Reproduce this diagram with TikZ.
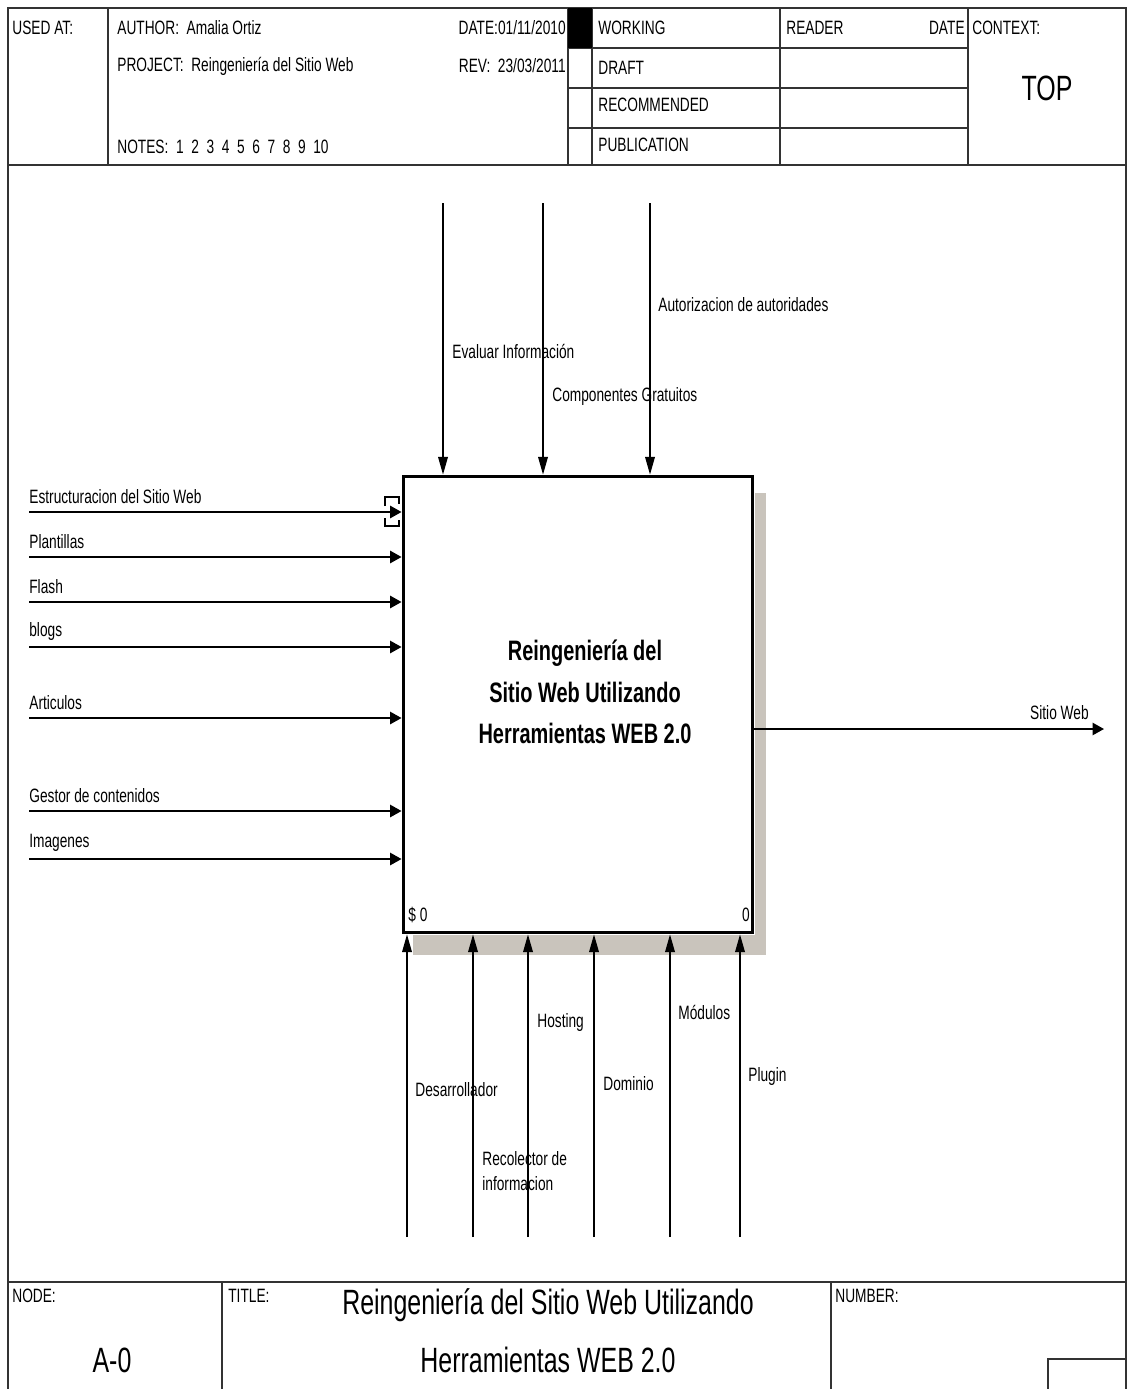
\documentclass[tikz,border=0pt]{standalone}
\usepackage{fontspec}
\setmainfont{Liberation Sans}[FakeStretch=0.71]
\usetikzlibrary{arrows.meta,positioning}
\definecolor{boxshadow}{HTML}{C9C4BC}
\definecolor{rule}{HTML}{333333}
\tikzset{
  % IDEF0 frame lines and the activity box
  frm/.style  = {line width=0.9pt, rule},
  act/.style  = {rectangle, draw, line width=1.7pt, fill=white, inner sep=0pt,
                 minimum width=7cm, minimum height=9.14cm},
  varr/.style = {-{Triangle[length=10pt,width=5.5pt]}, line width=0.7pt},
  harr/.style = {-{Triangle[length=6.5pt,width=7pt]}, line width=1pt},
  lbl/.style  = {font=\fontsize{11}{12.5}\selectfont, inner sep=0pt, anchor=west},
  hdr/.style  = {font=\fontsize{11}{12.5}\selectfont, inner sep=0pt},
  big/.style  = {font=\fontsize{20}{24}\selectfont, inner sep=0pt, align=center},
}

\begin{document}
\begin{tikzpicture}[x=0.02cm,y=-0.02cm]
\useasboundingbox (0,0) rectangle (1130,1389);

% ---- outer frame ----------------------------------------------------
\draw[frm] (8,1389) -- (8,8) -- (1126,8) -- (1126,1389);
\draw[frm, line width=1.2pt] (8,165) -- (1126,165);
\draw[frm, line width=1.2pt] (8,1282) -- (1126,1282);

% ---- header ---------------------------------------------------------
\foreach \x in {108,568,592,780,968} \draw[frm] (\x,8) -- (\x,165);
\foreach \y in {48,88,128} \draw[frm] (568,\y) -- (968,\y);
\fill (568,8) rectangle (592,48);
\node[hdr, anchor=west] (usedat) at (12,28) {USED AT:};
\node[hdr, anchor=west] (author) at (117,28) {AUTHOR:\ \ Amalia Ortiz};
\node[hdr, anchor=east] (date) at (566,28) {DATE:01/11/2010};
\node[hdr, anchor=west] (project) at (117,66) {PROJECT:\ \ Reingeniería del Sitio Web};
\node[hdr, anchor=east] (rev) at (566,66) {REV:\ \ 23/03/2011};
\node[hdr, anchor=west] (notes) at (117,147) {NOTES:\ \ 1\ \ 2\ \ 3\ \ 4\ \ 5\ \ 6\ \ 7\ \ 8\ \ 9\ \ 10};
\node[hdr, anchor=west] (working) at (598,28) {WORKING};
\node[hdr, anchor=west] (draft) at (598,68) {DRAFT};
\node[hdr, anchor=west] (recom) at (598,105) {RECOMMENDED};
\node[hdr, anchor=west] (publ) at (598,145) {PUBLICATION};
\node[hdr, anchor=west] (reader) at (786,28) {READER};
\node[hdr, anchor=east] (rdate) at (965,28) {DATE};
\node[hdr, anchor=west] (context) at (972,28) {CONTEXT:};
\node[big] (top) at (1047,88) {TOP};

% ---- activity box ---------------------------------------------------
\fill[boxshadow] (755,493) rectangle (766,955);
\fill[boxshadow] (413,935) rectangle (766,955);
\node[act] (box) at (578,704.5) {};
\node[big, font=\fontsize{16}{23.5}\selectfont\bfseries] (title) at (585,692)
     {Reingeniería del\\Sitio Web Utilizando\\Herramientas WEB 2.0};
\node[lbl] (cost) at (408,915) {\$ 0};
\node[lbl, anchor=east] (num) at (750,915) {0};

% ---- controls -------------------------------------------------------
\foreach \x/\n in {443/c1, 543/c2, 650/c3} {
  \coordinate (\n) at (\x,203);
  \draw[varr] (\n) -- (\n |- box.north);
}
\node[lbl] (ctl1) at (452,351) {Evaluar Información};
\node[lbl] (ctl2) at (552,396) {Componentes Gratuitos};
\node[lbl] (ctl3) at (658,305) {Autorizacion de autoridades};

% ---- inputs ---------------------------------------------------------
\foreach \y/\n/\t in {512/i1/Estructuracion del Sitio Web, 557/i2/Plantillas,
                      602/i3/Flash, 647/i4/blogs, 718/i5/Articulos,
                      811/i6/Gestor de contenidos, 859/i7/Imagenes} {
  \coordinate (\n) at (29,\y);
  \draw[harr] (\n) -- (\n -| box.west);
  \node[lbl] (\n l) at ([yshift=9pt]\n) {\t};
}
% tunnel brackets on the first input
\draw[line width=0.6pt] (385,506) -- (385,497) -- (399,497) -- (399,504);
\draw[line width=0.6pt] (385,518) -- (385,526) -- (399,526) -- (399,520);

% ---- output ---------------------------------------------------------
\coordinate (o1) at (1104,729);
\draw[harr] (o1 -| box.east) -- (o1);
\node[lbl, anchor=east] (o1l) at (1089,713) {Sitio Web};

% ---- mechanisms -----------------------------------------------------
\foreach \x/\n in {407/m1, 473/m2, 528/m3, 594/m4, 670/m5, 740/m6} {
  \coordinate (\n) at (\x,1237);
  \draw[varr] (\n) -- (\n |- box.south);
}
\node[lbl] (m1l) at (415,1090) {Desarrollador};
\node[lbl, align=left] (m2l) at (482,1171) {Recolector de\\[2pt]informacion};
\node[lbl] (m3l) at (537,1022) {Hosting};
\node[lbl] (m4l) at (603,1084) {Dominio};
\node[lbl] (m5l) at (678,1012) {Módulos};
\node[lbl] (m6l) at (748,1076) {Plugin};

% ---- footer ---------------------------------------------------------
\draw[frm] (222,1282) -- (222,1389);
\draw[frm] (831,1282) -- (831,1389);
\draw[frm, line width=1.2pt] (1048,1389) -- (1048,1359) -- (1126,1359);
\node[hdr, anchor=west] (nodelbl) at (12,1296) {NODE:};
\node[hdr, anchor=west] (titlelbl) at (228,1296) {TITLE:};
\node[hdr, anchor=west] (numlbl) at (835,1296) {NUMBER:};
\node[big] (nodeid) at (112,1360) {A-0};
\node[big] (ftitle) at (548,1305) {Reingeniería del Sitio Web Utilizando};
\node[big] (ftitle2) at (548,1360) {Herramientas WEB 2.0};
\end{tikzpicture}
\end{document}
